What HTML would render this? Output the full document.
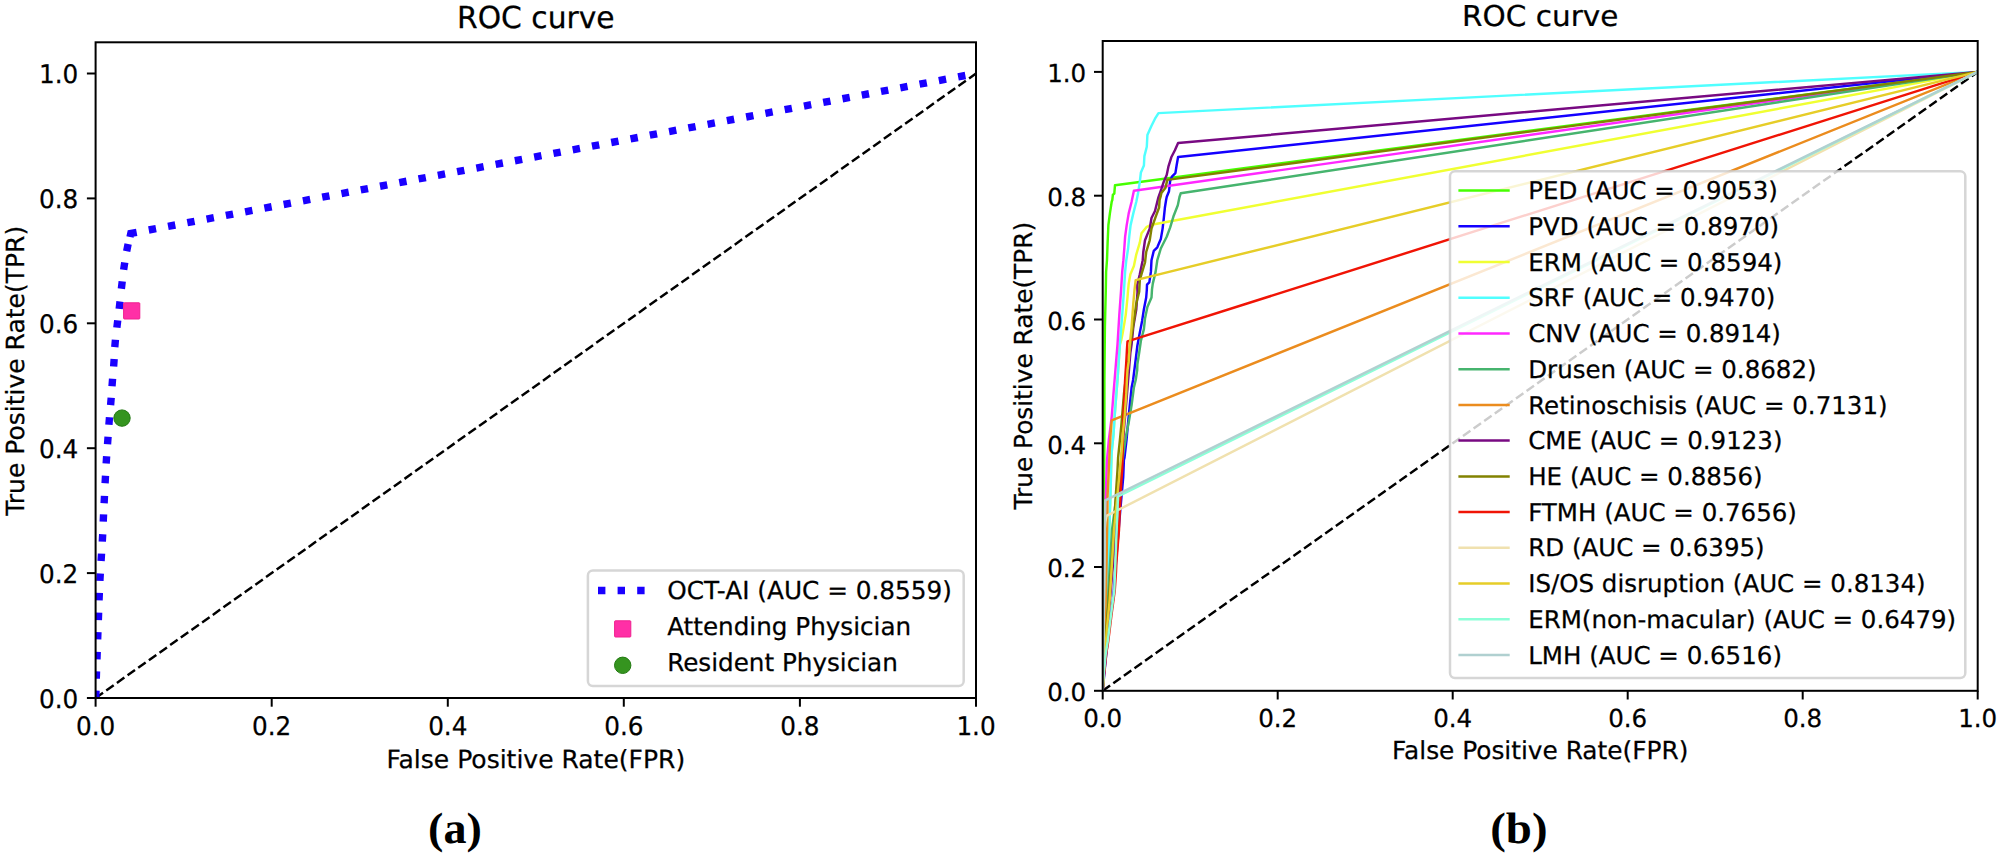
<!DOCTYPE html>
<html lang="en"><head><meta charset="utf-8"><title>ROC curve</title>
<style>
html,body{margin:0;padding:0;background:#fff;}
body{width:2000px;height:855px;overflow:hidden;}
svg{display:block;}
text{font-family:"DejaVu Sans","Liberation Sans",sans-serif;fill:#000;text-rendering:geometricPrecision;}
</style></head><body>
<svg width="2000" height="855" viewBox="0 0 2000 855">
<rect x="0" y="0" width="2000" height="855" fill="#ffffff"/>
<defs>
<clipPath id="clipL"><rect x="95.6" y="42.3" width="880.4" height="655.7"/></clipPath>
<clipPath id="clipR"><rect x="1102.7" y="41.0" width="875.0" height="649.8"/></clipPath>
</defs>

<g id="left-plot">
<g clip-path="url(#clipL)">
<line x1="95.6" y1="698.0" x2="976.0" y2="73.5" stroke="#000" stroke-width="2.46" stroke-dasharray="9.12 3.94"/>
<path d="M95.77 697.90L96.03 690.50M96.29 678.70L96.51 671.30M96.97 659.30L97.23 651.90M97.67 639.40L97.93 632.00M98.37 620.00L98.63 612.60M99.05 600.30L99.35 592.90M99.90 580.89L100.30 573.51M101.07 560.99L101.53 553.61M102.30 541.59L102.70 534.21M103.23 521.70L103.57 514.30M104.12 503.30L104.48 495.90M105.10 483.19L105.50 475.81M106.16 463.59L106.64 456.21M107.53 444.19L108.07 436.81M108.91 424.69L109.49 417.31M110.60 405.09L111.20 397.71M112.01 386.19L112.59 378.81M113.64 366.49L114.16 359.11M114.78 347.09L115.42 339.71M116.87 327.67L117.73 320.33M119.17 308.88L120.03 301.52M121.37 288.77L122.23 281.43M123.65 269.76L124.75 262.44M126.67 251.23L128.13 243.97M130.0 237.0L130.8 233.4L136.7 232.3M148.76 230.01L156.04 228.64M168.03 226.37L175.31 224.99M187.30 222.72L194.58 221.35M206.57 219.08L213.85 217.70M225.84 215.43L233.12 214.05M245.11 211.78L252.39 210.41M264.38 208.14L271.66 206.76M283.65 204.49L290.93 203.12M302.92 200.85L310.20 199.47M322.19 197.20L329.47 195.82M341.46 193.55L348.74 192.18M360.73 189.91L368.01 188.53M380.00 186.26L387.28 184.89M399.27 182.62L406.55 181.24M418.54 178.97L425.82 177.59M437.81 175.32L445.09 173.95M457.08 171.68L464.36 170.30M476.35 168.03L483.63 166.66M495.62 164.39L502.90 163.01M514.89 160.74L522.17 159.37M534.16 157.10L541.44 155.72M553.43 153.45L560.71 152.07M572.70 149.80L579.98 148.43M591.97 146.16L599.25 144.78M611.24 142.51L618.52 141.14M630.51 138.87L637.79 137.49M649.78 135.22L657.06 133.84M669.05 131.57L676.33 130.20M688.32 127.93L695.60 126.55M707.59 124.28L714.87 122.91M726.86 120.64L734.14 119.26M746.13 116.99L753.41 115.61M765.40 113.34L772.68 111.97M784.67 109.70L791.95 108.32M803.94 106.05L811.22 104.68M823.21 102.41L830.49 101.03M842.48 98.76L849.76 97.39M861.75 95.12L869.03 93.74M881.02 91.47L888.30 90.09M900.29 87.82L907.57 86.45M919.56 84.18L926.84 82.80M938.83 80.53L946.11 79.16M958.10 76.89L965.38 75.51" fill="none" stroke="#1a00ff" stroke-width="7.4" stroke-linejoin="miter"/>
<rect x="123.6" y="302.8" width="16.2" height="16.2" rx="0.8" fill="#ff2fa6" stroke="#f0208f" stroke-width="1"/>
<circle cx="122.0" cy="418.1" r="8.2" fill="#35941f" stroke="#237a12" stroke-width="1"/>
</g>
<rect x="95.6" y="42.3" width="880.4" height="655.7" fill="none" stroke="#000" stroke-width="2"/>
<line x1="95.6" y1="698.0" x2="95.6" y2="706.7" stroke="#000" stroke-width="2"/>
<text transform="translate(95.60,735.30) scale(1.0,1.035)" font-size="24.7" text-anchor="middle" stroke="#000" stroke-width="0.25">0.0</text>
<line x1="86.9" y1="698.0" x2="95.6" y2="698.0" stroke="#000" stroke-width="2"/>
<text transform="translate(78.30,707.90) scale(1.0,1.035)" font-size="24.7" text-anchor="end" stroke="#000" stroke-width="0.25">0.0</text>
<line x1="271.7" y1="698.0" x2="271.7" y2="706.7" stroke="#000" stroke-width="2"/>
<text transform="translate(271.68,735.30) scale(1.0,1.035)" font-size="24.7" text-anchor="middle" stroke="#000" stroke-width="0.25">0.2</text>
<line x1="86.9" y1="573.1" x2="95.6" y2="573.1" stroke="#000" stroke-width="2"/>
<text transform="translate(78.30,583.00) scale(1.0,1.035)" font-size="24.7" text-anchor="end" stroke="#000" stroke-width="0.25">0.2</text>
<line x1="447.8" y1="698.0" x2="447.8" y2="706.7" stroke="#000" stroke-width="2"/>
<text transform="translate(447.76,735.30) scale(1.0,1.035)" font-size="24.7" text-anchor="middle" stroke="#000" stroke-width="0.25">0.4</text>
<line x1="86.9" y1="448.2" x2="95.6" y2="448.2" stroke="#000" stroke-width="2"/>
<text transform="translate(78.30,458.11) scale(1.0,1.035)" font-size="24.7" text-anchor="end" stroke="#000" stroke-width="0.25">0.4</text>
<line x1="623.8" y1="698.0" x2="623.8" y2="706.7" stroke="#000" stroke-width="2"/>
<text transform="translate(623.84,735.30) scale(1.0,1.035)" font-size="24.7" text-anchor="middle" stroke="#000" stroke-width="0.25">0.6</text>
<line x1="86.9" y1="323.3" x2="95.6" y2="323.3" stroke="#000" stroke-width="2"/>
<text transform="translate(78.30,333.21) scale(1.0,1.035)" font-size="24.7" text-anchor="end" stroke="#000" stroke-width="0.25">0.6</text>
<line x1="799.9" y1="698.0" x2="799.9" y2="706.7" stroke="#000" stroke-width="2"/>
<text transform="translate(799.92,735.30) scale(1.0,1.035)" font-size="24.7" text-anchor="middle" stroke="#000" stroke-width="0.25">0.8</text>
<line x1="86.9" y1="198.4" x2="95.6" y2="198.4" stroke="#000" stroke-width="2"/>
<text transform="translate(78.30,208.32) scale(1.0,1.035)" font-size="24.7" text-anchor="end" stroke="#000" stroke-width="0.25">0.8</text>
<line x1="976.0" y1="698.0" x2="976.0" y2="706.7" stroke="#000" stroke-width="2"/>
<text transform="translate(976.00,735.30) scale(1.0,1.035)" font-size="24.7" text-anchor="middle" stroke="#000" stroke-width="0.25">1.0</text>
<line x1="86.9" y1="73.5" x2="95.6" y2="73.5" stroke="#000" stroke-width="2"/>
<text transform="translate(78.30,83.42) scale(1.0,1.035)" font-size="24.7" text-anchor="end" stroke="#000" stroke-width="0.25">1.0</text>
<text transform="translate(535.80,27.50) scale(1.0,1.02)" font-size="29.75" text-anchor="middle" stroke="#000" stroke-width="0.25">ROC curve</text>
<text transform="translate(535.80,767.60)" font-size="25.0" text-anchor="middle" stroke="#000" stroke-width="0.25">False Positive Rate(FPR)</text>
<text transform="translate(24.00,370.80) rotate(-90)" font-size="25.0" text-anchor="middle" stroke="#000" stroke-width="0.25">True Positive Rate(TPR)</text>
<g id="left-legend">
<rect x="587.9" y="570.4" width="375.8" height="115.7" rx="5" ry="5" fill="#ffffff" fill-opacity="0.8" stroke="#cccccc" stroke-opacity="0.8" stroke-width="2.5"/>
<line x1="598" y1="590.5" x2="648" y2="590.5" stroke="#1a00ff" stroke-width="7.4" stroke-dasharray="7.4 12.2"/>
<rect x="614.6" y="620.8" width="16.2" height="16.2" rx="0.8" fill="#ff2fa6" stroke="#f0208f" stroke-width="1"/>
<circle cx="622.7" cy="665.3" r="8.2" fill="#35941f" stroke="#237a12" stroke-width="1"/>
<text transform="translate(667.20,598.70)" font-size="24.75" text-anchor="start" stroke="#000" stroke-width="0.25">OCT-AI (AUC = 0.8559)</text>
<text transform="translate(667.20,635.05)" font-size="24.65" text-anchor="start" stroke="#000" stroke-width="0.25">Attending Physician</text>
<text transform="translate(667.20,671.40)" font-size="24.65" text-anchor="start" stroke="#000" stroke-width="0.25">Resident Physician</text>
</g>
</g>
<g id="right-plot">
<g clip-path="url(#clipR)">
<line x1="1102.7" y1="690.8" x2="1977.7" y2="71.9" stroke="#000" stroke-width="2.45" stroke-dasharray="9.06 3.92"/>
<polyline points="1102.7,690.8 1102.9,667.0 1103.2,630.0 1103.5,600.0 1104.0,500.0 1104.4,430.0 1104.4,380.0 1104.9,327.0 1105.8,290.0 1106.1,272.0 1107.0,260.0 1107.6,243.0 1108.4,225.0 1109.9,213.4 1111.7,201.7 1112.3,200.0 1112.9,194.7 1114.3,193.6 1115.0,185.2 1977.7,71.9" fill="none" stroke="#46ff00" stroke-width="2.45" stroke-linejoin="round"/>
<polyline points="1102.7,690.8 1105.0,667.0 1108.7,630.0 1113.0,600.0 1117.0,550.0 1120.3,510.0 1123.2,477.5 1123.9,460.0 1124.5,457.7 1126.5,440.2 1128.1,422.6 1129.8,405.1 1131.6,387.5 1133.1,380.0 1133.9,373.6 1135.7,359.5 1137.4,345.5 1139.8,332.6 1142.1,320.9 1143.9,309.2 1146.2,297.5 1146.8,290.0 1147.0,284.7 1149.3,282.4 1150.9,271.9 1151.5,260.2 1153.8,250.8 1157.3,247.3 1160.8,239.1 1162.6,228.6 1163.7,219.2 1164.9,207.5 1166.1,200.0 1166.7,197.0 1169.0,191.2 1170.2,180.7 1171.9,176.6 1175.4,173.1 1176.6,165.5 1178.1,157.0 1977.7,71.9" fill="none" stroke="#1400ff" stroke-width="2.45" stroke-linejoin="round"/>
<polyline points="1102.7,690.8 1103.6,667.0 1105.1,630.0 1106.8,600.0 1108.3,560.0 1109.9,512.6 1110.5,495.0 1111.1,470.0 1111.7,451.9 1113.5,434.3 1114.6,416.8 1116.4,393.4 1117.5,380.0 1119.9,344.3 1121.3,340.0 1122.8,332.6 1125.7,315.1 1127.5,297.5 1128.1,290.0 1128.7,283.6 1130.4,274.2 1133.9,266.0 1136.3,254.3 1139.8,242.6 1141.5,233.3 1146.8,226.8 1151.5,224.7 1977.7,71.9" fill="none" stroke="#f0ff32" stroke-width="2.45" stroke-linejoin="round"/>
<polyline points="1102.7,690.8 1103.6,667.0 1105.1,630.0 1106.8,600.0 1108.3,560.0 1109.9,512.6 1110.5,495.0 1111.1,470.0 1111.7,451.9 1113.5,434.3 1114.6,416.8 1116.4,393.4 1117.5,380.0 1119.9,344.3 1122.2,315.1 1124.0,290.0 1125.1,271.9 1126.3,260.2 1128.1,248.5 1129.2,236.8 1130.6,225.1 1133.3,213.4 1136.3,201.7 1138.0,193.6 1139.8,181.9 1140.9,172.5 1143.9,165.5 1144.4,156.1 1146.8,146.8 1147.4,135.1 1151.5,125.7 1155.0,118.7 1158.5,113.1 1977.7,71.9" fill="none" stroke="#50ffff" stroke-width="2.45" stroke-linejoin="round"/>
<polyline points="1102.7,690.8 1103.0,667.0 1103.5,630.0 1104.0,600.0 1104.8,540.0 1105.8,495.0 1107.0,460.0 1108.8,440.2 1111.7,416.8 1113.5,393.4 1114.6,380.0 1117.5,344.3 1119.3,315.1 1121.1,290.0 1122.2,271.9 1123.4,260.2 1124.3,248.5 1125.1,236.8 1126.7,225.1 1128.7,213.4 1131.6,201.7 1133.9,190.8 1977.7,71.9" fill="none" stroke="#ff28ff" stroke-width="2.45" stroke-linejoin="round"/>
<polyline points="1102.7,690.8 1103.9,667.0 1105.8,630.0 1108.0,600.0 1108.5,590.0 1112.0,530.0 1116.0,500.0 1121.0,470.0 1126.3,434.3 1128.7,422.6 1131.6,405.1 1133.9,387.5 1135.7,380.0 1137.2,370.0 1137.4,364.2 1139.2,352.5 1140.9,340.8 1143.9,329.1 1145.0,318.6 1147.4,306.9 1151.5,297.5 1152.0,289.4 1152.8,283.6 1155.6,271.9 1157.3,260.2 1160.8,248.5 1166.7,236.8 1170.2,227.4 1173.7,215.7 1177.8,205.2 1179.5,197.0 1180.7,193.3 1977.7,71.9" fill="none" stroke="#46b46e" stroke-width="2.45" stroke-linejoin="round"/>
<polyline points="1102.7,690.8 1103.4,667.0 1104.5,630.0 1105.8,600.0 1106.0,590.0 1106.6,560.0 1107.1,530.0 1107.3,518.5 1107.6,495.0 1108.8,470.0 1109.1,463.6 1109.9,446.0 1110.8,430.8 1111.7,420.3 1977.7,71.9" fill="none" stroke="#eb8c1e" stroke-width="2.45" stroke-linejoin="round"/>
<polyline points="1102.7,690.8 1104.3,667.0 1106.9,630.0 1110.0,600.0 1115.0,540.0 1119.3,483.0 1123.0,440.0 1126.5,400.0 1130.4,352.5 1131.6,344.3 1133.3,326.8 1136.3,309.2 1137.5,292.0 1137.2,285.0 1139.8,274.2 1142.7,260.2 1143.3,252.0 1145.0,240.3 1149.7,228.6 1151.5,218.0 1155.0,211.0 1157.9,199.4 1158.5,197.1 1161.4,188.9 1163.7,181.9 1166.7,174.9 1168.4,166.7 1171.3,157.3 1174.9,150.3 1178.1,143.0 1977.7,71.9" fill="none" stroke="#780a82" stroke-width="2.45" stroke-linejoin="round"/>
<polyline points="1102.7,690.8 1104.0,667.0 1106.2,630.0 1108.8,600.0 1112.5,550.0 1115.5,500.0 1117.5,470.0 1118.1,457.7 1119.9,440.2 1121.6,422.6 1124.0,393.4 1127.5,365.0 1131.0,340.0 1133.9,320.9 1136.3,303.4 1139.2,291.7 1139.8,280.0 1141.5,274.2 1145.0,262.5 1146.2,252.0 1149.7,240.3 1151.5,228.6 1156.1,215.7 1159.1,207.5 1159.6,200.0 1160.8,195.8 1161.4,193.0 1165.5,187.7 1167.3,179.9 1977.7,71.9" fill="none" stroke="#828200" stroke-width="2.45" stroke-linejoin="round"/>
<polyline points="1102.7,690.8 1104.0,675.0 1106.2,654.0 1108.2,641.5 1111.4,615.7 1114.8,590.0 1116.0,572.0 1116.4,562.3 1117.3,551.0 1119.0,530.0 1119.6,515.0 1120.2,503.4 1121.4,480.0 1122.2,470.0 1122.8,446.0 1123.4,416.8 1124.0,402.7 1125.1,380.0 1125.5,373.6 1126.3,361.9 1126.9,350.2 1127.5,341.4 1977.7,71.9" fill="none" stroke="#f01405" stroke-width="2.45" stroke-linejoin="round"/>
<polyline points="1102.7,690.8 1103.5,640.0 1104.3,570.0 1104.7,530.0 1105.3,522.0 1106.5,515.9 1977.7,71.9" fill="none" stroke="#f0e1af" stroke-width="2.45" stroke-linejoin="round"/>
<polyline points="1102.7,690.8 1104.2,667.0 1106.8,630.0 1109.7,600.0 1110.3,590.0 1114.0,530.0 1119.9,470.0 1121.6,451.9 1122.8,434.3 1124.6,416.8 1126.3,393.4 1126.9,380.0 1127.5,370.0 1128.7,361.9 1129.8,344.3 1131.6,326.8 1133.3,303.4 1134.5,290.0 1135.7,280.1 1977.7,71.9" fill="none" stroke="#e6cd28" stroke-width="2.45" stroke-linejoin="round"/>
<polyline points="1102.7,690.8 1103.6,675.0 1105.7,654.0 1107.7,641.5 1110.9,615.7 1114.3,590.0 1115.5,560.0 1116.6,530.0 1117.3,515.0 1118.0,496.5 1977.7,71.9" fill="none" stroke="#8cffd7" stroke-width="2.45" stroke-linejoin="round"/>
<polyline points="1102.7,690.8 1103.5,640.0 1104.3,570.0 1104.7,530.0 1105.3,500.3 1977.7,71.9" fill="none" stroke="#b0d0d0" stroke-width="2.45" stroke-linejoin="round"/>
</g>
<rect x="1102.7" y="41.0" width="875.0" height="649.8" fill="none" stroke="#000" stroke-width="2"/>
<line x1="1102.7" y1="690.8" x2="1102.7" y2="699.5" stroke="#000" stroke-width="2"/>
<text transform="translate(1102.70,726.80) scale(1.0,1.01)" font-size="24.55" text-anchor="middle" stroke="#000" stroke-width="0.25">0.0</text>
<line x1="1094.0" y1="690.8" x2="1102.7" y2="690.8" stroke="#000" stroke-width="2"/>
<text transform="translate(1086.20,701.20) scale(1.0,1.01)" font-size="24.55" text-anchor="end" stroke="#000" stroke-width="0.25">0.0</text>
<line x1="1277.7" y1="690.8" x2="1277.7" y2="699.5" stroke="#000" stroke-width="2"/>
<text transform="translate(1277.70,726.80) scale(1.0,1.01)" font-size="24.55" text-anchor="middle" stroke="#000" stroke-width="0.25">0.2</text>
<line x1="1094.0" y1="567.0" x2="1102.7" y2="567.0" stroke="#000" stroke-width="2"/>
<text transform="translate(1086.20,577.43) scale(1.0,1.01)" font-size="24.55" text-anchor="end" stroke="#000" stroke-width="0.25">0.2</text>
<line x1="1452.7" y1="690.8" x2="1452.7" y2="699.5" stroke="#000" stroke-width="2"/>
<text transform="translate(1452.70,726.80) scale(1.0,1.01)" font-size="24.55" text-anchor="middle" stroke="#000" stroke-width="0.25">0.4</text>
<line x1="1094.0" y1="443.3" x2="1102.7" y2="443.3" stroke="#000" stroke-width="2"/>
<text transform="translate(1086.20,453.66) scale(1.0,1.01)" font-size="24.55" text-anchor="end" stroke="#000" stroke-width="0.25">0.4</text>
<line x1="1627.7" y1="690.8" x2="1627.7" y2="699.5" stroke="#000" stroke-width="2"/>
<text transform="translate(1627.70,726.80) scale(1.0,1.01)" font-size="24.55" text-anchor="middle" stroke="#000" stroke-width="0.25">0.6</text>
<line x1="1094.0" y1="319.5" x2="1102.7" y2="319.5" stroke="#000" stroke-width="2"/>
<text transform="translate(1086.20,329.89) scale(1.0,1.01)" font-size="24.55" text-anchor="end" stroke="#000" stroke-width="0.25">0.6</text>
<line x1="1802.7" y1="690.8" x2="1802.7" y2="699.5" stroke="#000" stroke-width="2"/>
<text transform="translate(1802.70,726.80) scale(1.0,1.01)" font-size="24.55" text-anchor="middle" stroke="#000" stroke-width="0.25">0.8</text>
<line x1="1094.0" y1="195.7" x2="1102.7" y2="195.7" stroke="#000" stroke-width="2"/>
<text transform="translate(1086.20,206.11) scale(1.0,1.01)" font-size="24.55" text-anchor="end" stroke="#000" stroke-width="0.25">0.8</text>
<line x1="1977.7" y1="690.8" x2="1977.7" y2="699.5" stroke="#000" stroke-width="2"/>
<text transform="translate(1977.70,726.80) scale(1.0,1.01)" font-size="24.55" text-anchor="middle" stroke="#000" stroke-width="0.25">1.0</text>
<line x1="1094.0" y1="71.9" x2="1102.7" y2="71.9" stroke="#000" stroke-width="2"/>
<text transform="translate(1086.20,82.34) scale(1.0,1.01)" font-size="24.55" text-anchor="end" stroke="#000" stroke-width="0.25">1.0</text>
<text transform="translate(1540.20,26.00) scale(1.0,0.975)" font-size="29.5" text-anchor="middle" stroke="#000" stroke-width="0.25">ROC curve</text>
<text transform="translate(1540.20,759.40)" font-size="24.8" text-anchor="middle" stroke="#000" stroke-width="0.25">False Positive Rate(FPR)</text>
<text transform="translate(1032.20,365.70) rotate(-90)" font-size="24.8" text-anchor="middle" stroke="#000" stroke-width="0.25">True Positive Rate(TPR)</text>
<g id="right-legend">
<rect x="1450.0" y="171.3" width="515.3" height="506.7" rx="5" ry="5" fill="#ffffff" fill-opacity="0.8" stroke="#cccccc" stroke-opacity="0.8" stroke-width="2.5"/>
<line x1="1458.4" y1="190.6" x2="1509.7" y2="190.6" stroke="#46ff00" stroke-width="2.5"/>
<text transform="translate(1528.20,199.20)" font-size="24.5" text-anchor="start" stroke="#000" stroke-width="0.25">PED (AUC = 0.9053)</text>
<line x1="1458.4" y1="226.3" x2="1509.7" y2="226.3" stroke="#1400ff" stroke-width="2.5"/>
<text transform="translate(1528.20,234.92)" font-size="24.5" text-anchor="start" stroke="#000" stroke-width="0.25">PVD (AUC = 0.8970)</text>
<line x1="1458.4" y1="262.0" x2="1509.7" y2="262.0" stroke="#f0ff32" stroke-width="2.5"/>
<text transform="translate(1528.20,270.64)" font-size="24.5" text-anchor="start" stroke="#000" stroke-width="0.25">ERM (AUC = 0.8594)</text>
<line x1="1458.4" y1="297.8" x2="1509.7" y2="297.8" stroke="#50ffff" stroke-width="2.5"/>
<text transform="translate(1528.20,306.36)" font-size="24.5" text-anchor="start" stroke="#000" stroke-width="0.25">SRF (AUC = 0.9470)</text>
<line x1="1458.4" y1="333.5" x2="1509.7" y2="333.5" stroke="#ff28ff" stroke-width="2.5"/>
<text transform="translate(1528.20,342.08)" font-size="24.5" text-anchor="start" stroke="#000" stroke-width="0.25">CNV (AUC = 0.8914)</text>
<line x1="1458.4" y1="369.2" x2="1509.7" y2="369.2" stroke="#46b46e" stroke-width="2.5"/>
<text transform="translate(1528.20,377.80)" font-size="24.5" text-anchor="start" stroke="#000" stroke-width="0.25">Drusen (AUC = 0.8682)</text>
<line x1="1458.4" y1="404.9" x2="1509.7" y2="404.9" stroke="#eb8c1e" stroke-width="2.5"/>
<text transform="translate(1528.20,413.52)" font-size="24.5" text-anchor="start" stroke="#000" stroke-width="0.25">Retinoschisis (AUC = 0.7131)</text>
<line x1="1458.4" y1="440.6" x2="1509.7" y2="440.6" stroke="#780a82" stroke-width="2.5"/>
<text transform="translate(1528.20,449.24)" font-size="24.5" text-anchor="start" stroke="#000" stroke-width="0.25">CME (AUC = 0.9123)</text>
<line x1="1458.4" y1="476.4" x2="1509.7" y2="476.4" stroke="#828200" stroke-width="2.5"/>
<text transform="translate(1528.20,484.96)" font-size="24.5" text-anchor="start" stroke="#000" stroke-width="0.25">HE (AUC = 0.8856)</text>
<line x1="1458.4" y1="512.1" x2="1509.7" y2="512.1" stroke="#f01405" stroke-width="2.5"/>
<text transform="translate(1528.20,520.68)" font-size="24.5" text-anchor="start" stroke="#000" stroke-width="0.25">FTMH (AUC = 0.7656)</text>
<line x1="1458.4" y1="547.8" x2="1509.7" y2="547.8" stroke="#f0e1af" stroke-width="2.5"/>
<text transform="translate(1528.20,556.40)" font-size="24.5" text-anchor="start" stroke="#000" stroke-width="0.25">RD (AUC = 0.6395)</text>
<line x1="1458.4" y1="583.5" x2="1509.7" y2="583.5" stroke="#e6cd28" stroke-width="2.5"/>
<text transform="translate(1528.20,592.12)" font-size="24.5" text-anchor="start" stroke="#000" stroke-width="0.25">IS/OS disruption (AUC = 0.8134)</text>
<line x1="1458.4" y1="619.2" x2="1509.7" y2="619.2" stroke="#8cffd7" stroke-width="2.5"/>
<text transform="translate(1528.20,627.84)" font-size="24.5" text-anchor="start" stroke="#000" stroke-width="0.25">ERM(non-macular) (AUC = 0.6479)</text>
<line x1="1458.4" y1="655.0" x2="1509.7" y2="655.0" stroke="#b0d0d0" stroke-width="2.5"/>
<text transform="translate(1528.20,663.56)" font-size="24.5" text-anchor="start" stroke="#000" stroke-width="0.25">LMH (AUC = 0.6516)</text>
</g>
</g>
<text transform="translate(455.0,843.0) scale(1.05,1)" font-size="44" text-anchor="middle" style="font-family:'Liberation Serif','DejaVu Serif',serif;font-weight:bold">(a)</text>
<text transform="translate(1518.9,842.7) scale(1.065,1)" font-size="44" text-anchor="middle" style="font-family:'Liberation Serif','DejaVu Serif',serif;font-weight:bold">(b)</text>
</svg>
</body></html>
